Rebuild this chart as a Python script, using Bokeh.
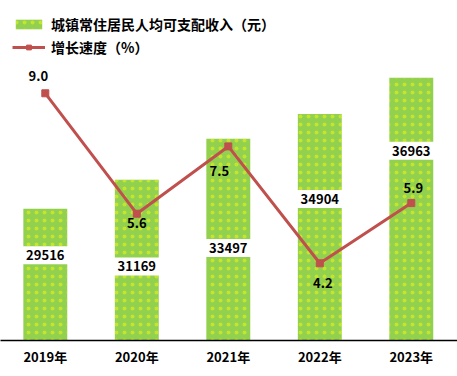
from bokeh.plotting import figure
from bokeh.models import ColumnDataSource, Range1d, FixedTicker, Legend, LegendItem
from bokeh.core.properties import value
from bokeh.embed import file_html
from bokeh.resources import INLINE

# ---- data ----
years = ["2019年", "2020年", "2021年", "2022年", "2023年"]
income = [29516, 31169, 33497, 34904, 36963]
growth = [9.0, 5.6, 7.5, 4.2, 5.9]
income_labels = ["29516", "31169", "33497", "34904", "36963"]
growth_labels = ["9.0", "5.6", "7.5", "4.2", "5.9"]

# label placement (left-axis units for bar labels, pixel offsets for line labels)
income_label_y = [26880, 26240, 27290, 30070, 32820]
growth_dx = [-7, 0, -9, 3, 2]
growth_dy = [-17, 9, 25, 20, -15]

FONT = "Noto Sans CJK SC"
GREEN = "#92D050"
RED = "#C0504D"
BASE = 22030

xs = list(range(len(years)))
src = ColumnDataSource(dict(
    x=xs, income=income, growth=growth,
    ilab=income_labels, ily=income_label_y,
    glab=growth_labels, gdx=growth_dx, gdy=growth_dy,
))

p = figure(width=457, height=376, output_backend="svg", toolbar_location=None,
           x_range=Range1d(-0.4896, 4.505), y_range=Range1d(BASE, 41359),
           y_axis_location=None, min_border_left=0, min_border_right=0,
           min_border_top=0, min_border_bottom=36)
p.extra_y_ranges = {"g": Range1d(2.02, 11.62)}
p.outline_line_color = None
p.grid.visible = False
p.background_fill_color = "white"
p.border_fill_color = "white"

bars = p.vbar(x="x", top="income", bottom=BASE, width=0.48, source=src,
              fill_color=GREEN, line_color=None,
              hatch_pattern="dot", hatch_color="#FFFF00", hatch_scale=8,
              hatch_weight=0.5, hatch_alpha=0.45)

p.text(x="x", y="ily", text="ilab", source=src, text_align="center", text_baseline="middle",
       text_font=value(FONT), text_font_style="bold", text_font_size="13px", text_color="black",
       background_fill_color="white", padding=4)

ln = p.line(x="x", y="growth", source=src, y_range_name="g", line_color=RED, line_width=3)
mk = p.scatter(x="x", y="growth", source=src, y_range_name="g", marker="square", size=7,
               fill_color=RED, line_color=RED)

p.text(x="x", y="growth", text="glab", source=src, y_range_name="g",
       x_offset="gdx", y_offset="gdy", text_align="center", text_baseline="middle",
       text_font=value(FONT), text_font_style="bold", text_font_size="13px", text_color="black")

ax = p.xaxis[0]
ax.ticker = FixedTicker(ticks=xs)
ax.major_label_overrides = {i: y for i, y in zip(xs, years)}
ax.major_tick_out = 0
ax.major_tick_in = 0
ax.minor_tick_out = 0
ax.minor_tick_in = 0
ax.axis_line_color = "black"
ax.axis_line_width = 1.5
ax.major_label_standoff = 6
ax.major_label_text_font = FONT
ax.major_label_text_font_style = "bold"
ax.major_label_text_font_size = "13px"
ax.major_label_text_color = "black"

legend = Legend(items=[
    LegendItem(label="城镇常住居民人均可支配收入（元）", renderers=[bars]),
    LegendItem(label="增长速度（%）", renderers=[ln, mk]),
], location=(12, 283), padding=3, margin=0, spacing=3,
    glyph_width=33, glyph_height=12, label_standoff=6,
    label_text_font=FONT, label_text_font_style="bold", label_text_font_size="14px",
    label_text_color="black", background_fill_alpha=0, border_line_color=None)
p.add_layout(legend, "center")

open("out.html", "w").write(file_html(p, INLINE))
